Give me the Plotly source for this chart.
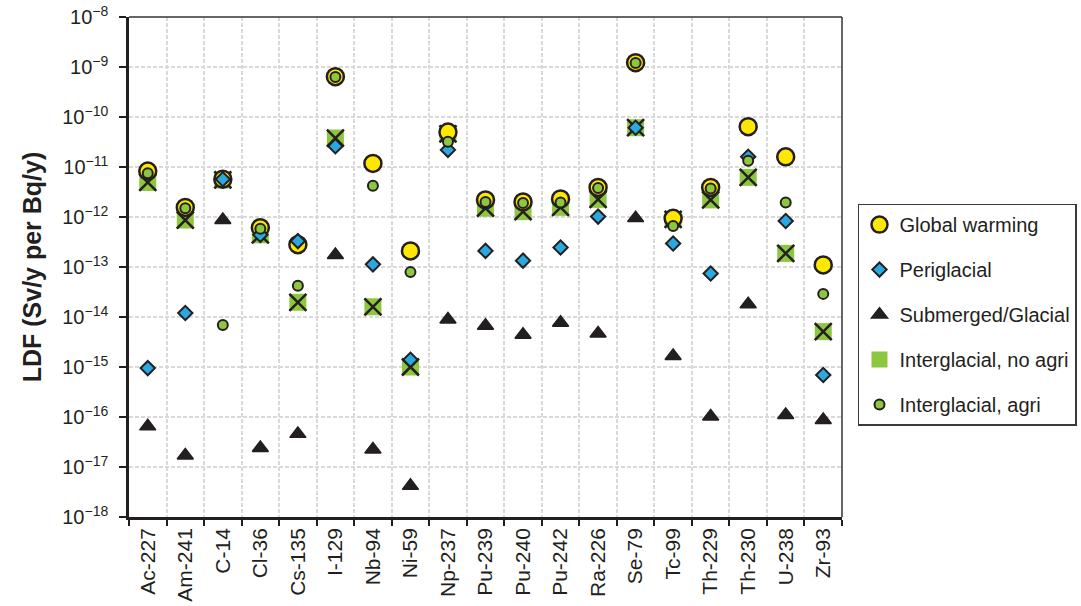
import plotly.graph_objects as go

categories = ["Ac-227", "Am-241", "C-14", "Cl-36", "Cs-135", "I-129", "Nb-94", "Ni-59",
              "Np-237", "Pu-239", "Pu-240", "Pu-242", "Ra-226", "Se-79", "Tc-99",
              "Th-229", "Th-230", "U-238", "Zr-93"]

global_warming = [8.3e-12, 1.55e-12, 5.7e-12, 6.1e-13, 2.8e-13, 6.4e-10, 1.18e-11, 2.1e-13,
                  5.0e-11, 2.2e-12, 2.0e-12, 2.3e-12, 3.9e-12, 1.22e-9, 9.4e-13, 3.9e-12,
                  6.4e-11, 1.6e-11, 1.1e-13]
periglacial = [9.5e-16, 1.2e-14, 5.7e-12, 4.4e-13, 3.3e-13, 2.6e-11, 1.13e-13, 1.4e-15,
               2.2e-11, 2.1e-13, 1.34e-13, 2.46e-13, 1.02e-12, 6.1e-11, 2.96e-13, 7.4e-14,
               1.6e-11, 8.3e-13, 6.9e-16]
submerged_glacial = [6.5e-17, 1.7e-17, 8.7e-13, 2.4e-17, 4.6e-17, 1.74e-13, 2.25e-17, 4.2e-18,
                     8.9e-15, 6.7e-15, 4.4e-15, 7.7e-15, 4.7e-15, 9.5e-13, 1.66e-15, 1.02e-16,
                     1.8e-14, 1.1e-16, 8.7e-17]
interglacial_no_agri = [4.9e-12, 8.7e-13, 5.5e-12, 4.4e-13, 1.97e-14, 3.8e-11, 1.6e-14, 1.0e-15,
                        4.6e-11, 1.5e-12, 1.28e-12, 1.56e-12, 2.25e-12, 6.1e-11, 9.0e-13, 2.2e-12,
                        6.2e-12, 1.87e-13, 5.1e-15]
interglacial_agri = [7.5e-12, 1.5e-12, 6.9e-15, 5.8e-13, 4.2e-14, 6.3e-10, 4.2e-12, 7.9e-14,
                     3.2e-11, 2.0e-12, 1.9e-12, 1.96e-12, 3.8e-12, 1.2e-9, 6.6e-13, 3.7e-12,
                     1.34e-11, 1.94e-12, 2.9e-14]

exponents = list(range(-18, -7))
tick_vals = [10.0 ** e for e in exponents]
tick_text = ["10<sup>\u2212%d</sup>" % (-e) for e in exponents]

BLACK = "#231F20"
YELLOW = "#FFE800"
BLUE = "#2AA9E0"
GREEN = "#8DC63F"
FONT = "Arial, Liberation Sans, sans-serif"

fig = go.Figure()

# drawing order: interglacial no agri (bottom) ... interglacial agri (top)
fig.add_trace(go.Scatter(
    x=categories, y=interglacial_no_agri, mode="markers", name="Interglacial, no agri",
    legendgroup="g4", legendrank=4,
    marker=dict(symbol="square", size=17, color=GREEN, line=dict(width=0))))
fig.add_trace(go.Scatter(
    x=categories, y=interglacial_no_agri, mode="markers", name="Interglacial, no agri",
    legendgroup="g4", showlegend=False,
    marker=dict(symbol="x-thin", size=17, color=BLACK, line=dict(width=2.5, color=BLACK))))
fig.add_trace(go.Scatter(
    x=categories, y=global_warming, mode="markers", name="Global warming",
    legendgroup="g1", legendrank=1,
    marker=dict(symbol="circle", size=17, color=YELLOW, line=dict(width=2.5, color=BLACK))))
fig.add_trace(go.Scatter(
    x=categories, y=periglacial, mode="markers", name="Periglacial",
    legendgroup="g2", legendrank=2,
    marker=dict(symbol="diamond", size=11, color=BLUE, line=dict(width=2, color=BLACK))))
fig.add_trace(go.Scatter(
    x=categories, y=submerged_glacial, mode="markers", name="Submerged/Glacial",
    legendgroup="g3", legendrank=3,
    marker=dict(symbol="triangle-up", size=14, color=BLACK, line=dict(width=1.5, color=BLACK))))
fig.add_trace(go.Scatter(
    x=categories, y=interglacial_agri, mode="markers", name="Interglacial, agri",
    legendgroup="g5", legendrank=5,
    marker=dict(symbol="circle", size=10, color=GREEN, line=dict(width=2, color=BLACK))))

fig.update_layout(
    width=1081, height=606,
    margin=dict(l=129, r=239, t=17, b=89),
    paper_bgcolor="white", plot_bgcolor="white",
    font=dict(family=FONT, size=20, color=BLACK),
    showlegend=True,
    legend=dict(
        xref="container", yref="container",
        x=0.7937, xanchor="left", y=0.664, yanchor="top",
        bgcolor="white", bordercolor="#3a3a3a", borderwidth=1.5,
        font=dict(family=FONT, size=20, color=BLACK),
        traceorder="grouped", tracegroupgap=16,
    ),
    xaxis=dict(
        type="category", categoryorder="array", categoryarray=categories,
        range=[-0.5, len(categories) - 0.5], autorange=False,
        tickson="boundaries", ticks="outside", ticklen=6, tickwidth=2, tickcolor=BLACK,
        tickangle=-90, tickfont=dict(size=21, family=FONT, color=BLACK),
        showgrid=True, gridcolor="#D9D9D9", gridwidth=2, griddash="4px,2px",
        showline=True, linecolor=BLACK, linewidth=2.5,
        zeroline=False, automargin=False, ticklabeloverflow="allow",
    ),
    yaxis=dict(
        type="log", range=[-18, -8], autorange=False,
        tickvals=tick_vals, ticktext=tick_text,
        ticks="outside", ticklen=7, tickwidth=2, tickcolor=BLACK,
        ticklabelstandoff=7,
        tickfont=dict(size=20, family=FONT, color=BLACK),
        showgrid=True, gridcolor="#D9D9D9", gridwidth=2, griddash="4px,2px",
        showline=True, linecolor=BLACK, linewidth=2.5,
        zeroline=False, automargin=False, ticklabeloverflow="allow",
        title=dict(text="<b>LDF (Sv/y per Bq/y)</b>", font=dict(size=25, family=FONT, color=BLACK),
                   standoff=14),
    ),
    shapes=[
        dict(type="line", xref="paper", yref="paper", x0=0, x1=1, y0=1, y1=1,
             line=dict(color="#333333", width=1.5), layer="above"),
        dict(type="line", xref="paper", yref="paper", x0=1, x1=1, y0=0, y1=1,
             line=dict(color="#333333", width=1.5), layer="above"),
    ],
)

fig.write_html("out.html",
               config={"displayModeBar": False},
               post_script="document.body.style.margin='0';document.body.style.overflow='hidden';")
